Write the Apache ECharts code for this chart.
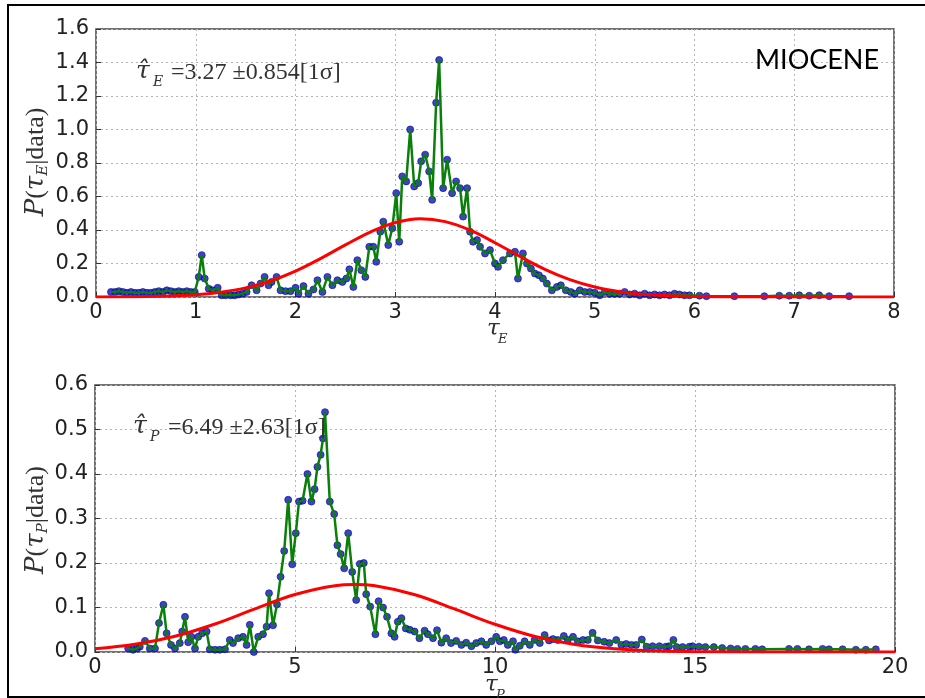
<!DOCTYPE html>
<html><head><meta charset="utf-8">
<script src="https://cdn.jsdelivr.net/npm/echarts@6/dist/echarts.min.js"></script>
<style>html,body{margin:0;padding:0;background:#fff}#c{width:925px;height:698px}</style>
</head><body><div id="c"></div>
<script>
// ---- data ----
var tauE_xTicks = [0,1,2,3,4,5,6,7,8];
var tauE_yTicks = [0.0,0.2,0.4,0.6,0.8,1.0,1.2,1.4,1.6];
var tauP_xTicks = [0,5,10,15,20];
var tauP_yTicks = [0.0,0.1,0.2,0.3,0.4,0.5,0.6];

var tauE_post = [[0.15,0.03],[0.19,0.03],[0.23,0.035],[0.27,0.03],[0.31,0.025],[0.35,0.03],[0.39,0.025],[0.43,0.025],[0.47,0.03],[0.51,0.025],[0.55,0.025],[0.59,0.03],[0.63,0.035],[0.67,0.03],[0.71,0.04],[0.75,0.035],[0.79,0.03],[0.83,0.035],[0.87,0.03],[0.91,0.035],[0.95,0.03],[0.99,0.03],[1.03,0.12],[1.06,0.25],[1.09,0.11],[1.13,0.05],[1.17,0.04],[1.22,0.055],[1.26,0.01],[1.30,0.01],[1.35,0.01],[1.39,0.01],[1.43,0.015],[1.47,0.02],[1.51,0.03],[1.56,0.07],[1.61,0.04],[1.65,0.08],[1.69,0.12],[1.73,0.07],[1.76,0.09],[1.81,0.12],[1.85,0.04],[1.90,0.035],[1.95,0.035],[2.00,0.055],[2.03,0.02],[2.08,0.065],[2.13,0.02],[2.18,0.045],[2.22,0.10],[2.27,0.03],[2.32,0.12],[2.37,0.07],[2.42,0.10],[2.47,0.09],[2.51,0.11],[2.54,0.165],[2.58,0.06],[2.62,0.22],[2.66,0.16],[2.70,0.12],[2.74,0.30],[2.78,0.30],[2.81,0.21],[2.85,0.39],[2.88,0.45],[2.93,0.31],[2.97,0.41],[3.01,0.62],[3.04,0.33],[3.07,0.72],[3.11,0.69],[3.15,1.00],[3.19,0.66],[3.23,0.68],[3.26,0.81],[3.30,0.85],[3.34,0.75],[3.37,0.58],[3.41,1.16],[3.44,1.415],[3.48,0.65],[3.52,0.82],[3.57,0.62],[3.61,0.69],[3.65,0.65],[3.68,0.48],[3.72,0.65],[3.75,0.39],[3.78,0.33],[3.82,0.34],[3.85,0.30],[3.90,0.26],[3.95,0.28],[4.00,0.20],[4.03,0.18],[4.08,0.22],[4.15,0.26],[4.20,0.27],[4.23,0.11],[4.28,0.26],[4.32,0.20],[4.36,0.17],[4.40,0.14],[4.44,0.13],[4.48,0.11],[4.52,0.08],[4.57,0.04],[4.62,0.06],[4.66,0.07],[4.71,0.04],[4.76,0.03],[4.80,0.02],[4.85,0.04],[4.90,0.03],[4.95,0.03],[5.00,0.025],[5.05,0.01],[5.10,0.03],[5.15,0.02],[5.20,0.02],[5.25,0.02],[5.30,0.03],[5.35,0.015],[5.40,0.02],[5.45,0.01],[5.50,0.02],[5.55,0.01],[5.60,0.015],[5.65,0.01],[5.70,0.015],[5.75,0.01],[5.80,0.02],[5.85,0.015],[5.90,0.01],[5.95,0.01],[6.05,0.008],[6.12,0.005],[6.40,0.005],[6.70,0.005],[6.85,0.008],[6.95,0.008],[7.05,0.01],[7.15,0.008],[7.25,0.01],[7.35,0.005],[7.55,0.005]];

var tauE_fit = [[0,0.0003],[0.5,0.0024],[1.0,0.0136],[1.25,0.0285],[1.5,0.0545],[1.75,0.0958],[2.0,0.1545],[2.25,0.229],[2.5,0.311],[2.75,0.388],[3.0,0.444],[3.25,0.467],[3.5,0.450],[3.75,0.399],[4.0,0.324],[4.25,0.242],[4.5,0.1655],[4.75,0.104],[5.0,0.060],[5.25,0.032],[5.5,0.0155],[6.0,0.0028],[6.5,0.0004],[7.0,0.0],[8.0,0.0]];

var tauP_post = [[0.83,0.008],[0.95,0.005],[1.05,0.008],[1.12,0.012],[1.25,0.025],[1.37,0.008],[1.50,0.008],[1.60,0.065],[1.71,0.106],[1.79,0.042],[1.90,0.016],[2.00,0.008],[2.12,0.02],[2.18,0.046],[2.25,0.079],[2.33,0.022],[2.41,0.034],[2.50,0.008],[2.58,0.034],[2.68,0.042],[2.79,0.046],[2.87,0.006],[3.00,0.005],[3.12,0.005],[3.25,0.006],[3.37,0.027],[3.45,0.02],[3.58,0.031],[3.70,0.034],[3.79,0.016],[3.87,0.061],[3.97,0.0],[4.08,0.034],[4.20,0.04],[4.29,0.057],[4.35,0.132],[4.45,0.06],[4.55,0.107],[4.64,0.169],[4.73,0.227],[4.83,0.342],[4.93,0.197],[5.02,0.267],[5.10,0.338],[5.19,0.34],[5.31,0.40],[5.41,0.338],[5.49,0.366],[5.56,0.416],[5.64,0.443],[5.70,0.48],[5.75,0.539],[5.87,0.338],[5.98,0.31],[6.06,0.24],[6.14,0.22],[6.23,0.188],[6.33,0.267],[6.43,0.18],[6.53,0.117],[6.62,0.198],[6.72,0.20],[6.78,0.13],[6.88,0.102],[7.01,0.04],[7.09,0.114],[7.20,0.10],[7.30,0.079],[7.41,0.042],[7.49,0.034],[7.57,0.068],[7.66,0.076],[7.77,0.053],[7.87,0.05],[7.99,0.046],[8.11,0.031],[8.24,0.048],[8.32,0.04],[8.45,0.031],[8.55,0.049],[8.66,0.021],[8.78,0.031],[8.90,0.02],[9.03,0.025],[9.16,0.016],[9.28,0.021],[9.41,0.013],[9.53,0.02],[9.66,0.024],[9.78,0.016],[9.91,0.024],[10.03,0.034],[10.12,0.024],[10.22,0.027],[10.32,0.016],[10.45,0.024],[10.51,0.005],[10.62,0.014],[10.74,0.024],[10.87,0.016],[10.99,0.027],[11.12,0.02],[11.24,0.038],[11.35,0.026],[11.45,0.029],[11.57,0.027],[11.72,0.036],[11.82,0.027],[11.95,0.034],[12.07,0.024],[12.20,0.027],[12.32,0.027],[12.44,0.043],[12.57,0.026],[12.73,0.023],[12.86,0.02],[13.03,0.027],[13.16,0.016],[13.28,0.018],[13.41,0.016],[13.53,0.016],[13.67,0.028],[13.79,0.012],[13.94,0.013],[14.11,0.013],[14.27,0.012],[14.35,0.013],[14.46,0.027],[14.54,0.011],[14.69,0.011],[14.86,0.012],[14.94,0.013],[15.10,0.012],[15.26,0.011],[15.47,0.011],[15.68,0.009],[15.89,0.008],[16.06,0.007],[16.26,0.007],[16.51,0.007],[16.68,0.006],[17.35,0.007],[17.56,0.007],[17.85,0.006],[18.19,0.007],[18.35,0.006],[18.69,0.006],[19.02,0.005],[19.27,0.005],[19.52,0.006]];

var tauP_fit = [[0,0.0072],[1,0.0172],[2,0.0354],[3,0.0629],[4,0.0969],[5,0.1292],[6,0.1491],[6.5,0.1517],[7,0.1489],[8,0.1287],[9,0.0962],[10,0.0623],[11,0.0349],[12,0.0169],[13,0.0071],[14,0.0026],[15,0.0008],[16,0.0002],[18,0.0],[20,0.0]];

var labelE = '=3.27 ±0.854[1σ]';
var labelP = '=6.49 ±2.63[1σ]';
var periodLabel = 'MIOCENE';

// ---- chart ----
var chart = echarts.init(document.getElementById('c'), null, {renderer:'canvas'});
var tickFont = {fontFamily:'DejaVu Sans', fontSize:21, color:'#222'};
var splitStyle = {show:true, lineStyle:{color:'#b4b4b4', width:1, type:[2,3]}};
function xAxis(idx, max, interval){
  return {type:'value', gridIndex:idx, min:0, max:max, interval:interval,
    axisLine:{show:false}, axisTick:{show:true, inside:true, length:5, lineStyle:{color:'#333'}},
    axisLabel:Object.assign({margin:5}, tickFont), splitLine:splitStyle};
}
function yAxis(idx, max, interval){
  return {type:'value', gridIndex:idx, min:0, max:max, interval:interval,
    axisLine:{show:false}, axisTick:{show:true, inside:true, length:5, lineStyle:{color:'#333'}},
    axisLabel:Object.assign({margin:7, formatter:function(v){return v.toFixed(1);}}, tickFont), splitLine:splitStyle};
}
var dotStyle = {color:'#1212c4', borderColor:'#0a0a9a', borderWidth:0.8};
function yTitle(sub, cy){
  return {type:'text', x:21, y:cy, rotation:Math.PI/2, z:100,
    style:{text:'{i|P}{n|(}{i|τ}{s|'+sub+'}{n||data)}', align:'center', verticalAlign:'top',
      rich:{i:{font:'italic 26px "DejaVu Serif"', fill:'#333', lineHeight:30, verticalAlign:'middle'},
            n:{font:'26px "Liberation Serif"', fill:'#333', lineHeight:30, verticalAlign:'middle'},
            s:{font:'italic 15px "DejaVu Serif"', fill:'#333', lineHeight:14, verticalAlign:'bottom'}}}};
}
var opt = {
  backgroundColor:'#fff',
  animation:false,
  grid:[
    {left:96, top:29, width:798, height:268, show:true, borderColor:'#444', borderWidth:1.5, backgroundColor:'transparent'},
    {left:95, top:385, width:800, height:267, show:true, borderColor:'#444', borderWidth:1.5, backgroundColor:'transparent'}
  ],
  xAxis:[xAxis(0, 8, 1), xAxis(1, 20, 5)],
  yAxis:[yAxis(0, 1.6, 0.2), yAxis(1, 0.6, 0.1)],
  series:[
    {type:'scatter', xAxisIndex:0, yAxisIndex:0, data:tauE_post, symbolSize:7, itemStyle:dotStyle, z:2},
    {type:'line', xAxisIndex:0, yAxisIndex:0, data:tauE_post, showSymbol:false, lineStyle:{color:'#0a7f0a', width:2.5}, z:3},
    {type:'line', xAxisIndex:0, yAxisIndex:0, data:tauE_fit, smooth:0.4, showSymbol:false, lineStyle:{color:'#ff0000', width:3}, z:4},
    {type:'scatter', xAxisIndex:1, yAxisIndex:1, data:tauP_post, symbolSize:7, itemStyle:dotStyle, z:2},
    {type:'line', xAxisIndex:1, yAxisIndex:1, data:tauP_post, showSymbol:false, lineStyle:{color:'#0a7f0a', width:2.5}, z:3},
    {type:'line', xAxisIndex:1, yAxisIndex:1, data:tauP_fit, smooth:0.4, showSymbol:false, lineStyle:{color:'#ff0000', width:3}, z:4}
  ],
  graphic:[
    {type:'polyline', z:100, shape:{points:[[925,5],[8,5],[8,697],[925,697]]}, style:{stroke:'#000', lineWidth:2, fill:null}},
    // annotation top
    {type:'text', left:136, top:59, z:100, style:{text:'τ̂', font:'italic 25px "DejaVu Serif"', fill:'#333'}},
    {type:'text', left:153, top:75, z:100, style:{text:'E', font:'italic 14px "DejaVu Serif"', fill:'#333'}},
    {type:'text', left:171, top:61, z:100, style:{text:labelE, font:'24px "Liberation Serif"', fill:'#333'}},
    // annotation bottom
    {type:'text', left:133, top:414, z:100, style:{text:'τ̂', font:'italic 25px "DejaVu Serif"', fill:'#333'}},
    {type:'text', left:150, top:430, z:100, style:{text:'P', font:'italic 14px "DejaVu Serif"', fill:'#333'}},
    {type:'text', left:168, top:416, z:100, style:{text:labelP, font:'24px "Liberation Serif"', fill:'#333'}},
    // MIOCENE
    {type:'text', left:755, top:47, z:100, style:{text:periodLabel, font:'27px Lato', fill:'#000'}},
    // x titles
    {type:'text', left:487, top:318, z:100, style:{text:'τ', font:'italic 23px "DejaVu Serif"', fill:'#333'}},
    {type:'text', left:498, top:333, z:100, style:{text:'E', font:'italic 13px "DejaVu Serif"', fill:'#333'}},
    {type:'text', left:485, top:674, z:100, style:{text:'τ', font:'italic 23px "DejaVu Serif"', fill:'#333'}},
    {type:'text', left:496, top:689, z:100, style:{text:'P', font:'italic 13px "DejaVu Serif"', fill:'#333'}},
    yTitle('E', 162),
    yTitle('P', 520)
  ]
};
chart.setOption(opt);
</script></body></html>
